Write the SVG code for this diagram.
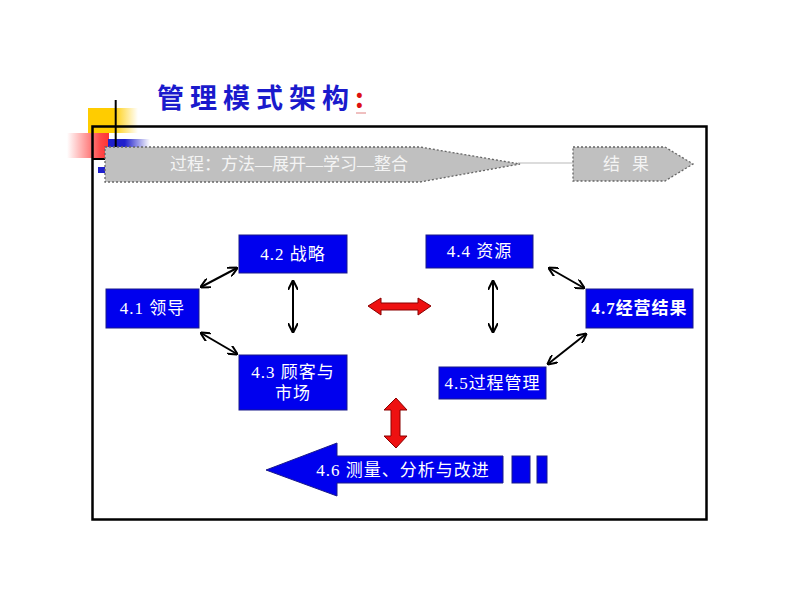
<svg xmlns="http://www.w3.org/2000/svg" width="800" height="600" viewBox="0 0 800 600">
<defs>
<linearGradient id="gY" x1="0" y1="0" x2="1" y2="0"><stop offset="0" stop-color="#ffcc00"/><stop offset="0.5" stop-color="#ffcc00"/><stop offset="1" stop-color="#ffcc00" stop-opacity="0"/></linearGradient>
<linearGradient id="gR" x1="0" y1="0" x2="1" y2="0"><stop offset="0" stop-color="#ff3333" stop-opacity="0"/><stop offset="0.8" stop-color="#ff3333" stop-opacity="0.9"/><stop offset="1" stop-color="#ff3333"/></linearGradient>
<linearGradient id="gB" x1="0" y1="0" x2="1" y2="0"><stop offset="0" stop-color="#2020cc"/><stop offset="0.4" stop-color="#2020cc"/><stop offset="1" stop-color="#2020cc" stop-opacity="0"/></linearGradient>
<marker id="ah" viewBox="0 0 10 10" refX="9" refY="5" markerWidth="5" markerHeight="5" orient="auto-start-reverse"><path d="M0,0 L10,5 L0,10" fill="none" stroke="#000" stroke-width="2"/></marker>
</defs>
<style>
.node{fill:#0000ee;stroke:#1a1a8a;stroke-width:1}
.nt{fill:#fff;font-family:"Liberation Serif","Noto Sans CJK SC",serif;font-size:17px;letter-spacing:1px;text-anchor:middle;dominant-baseline:central}
.grey{fill:#c0c0c0;stroke:#666;stroke-width:1.3;stroke-dasharray:2 2}
.gt{fill:#f4f4f4;font-family:"Liberation Serif","Noto Sans CJK SC",serif;font-size:17px;dominant-baseline:central}
.conn{stroke:#000;stroke-width:2;fill:none;marker-start:url(#ah);marker-end:url(#ah)}
.red{fill:#ee1111;stroke:#8a0000;stroke-width:1}
</style>
<rect width="800" height="600" fill="#fff"/>
<g id="title">
<text x="157" y="96" font-family="'Noto Sans CJK SC',sans-serif" font-weight="bold" font-size="27" letter-spacing="6" fill="#1a1acc" dominant-baseline="central">管理模式架构<tspan fill="#dd1111">:</tspan></text>
<line x1="356" y1="113" x2="366" y2="113" stroke="#e08080" stroke-width="1"/>
</g>
<g id="decoration">
<rect x="88" y="108" width="50" height="25" fill="url(#gY)"/>
<rect x="67" y="133" width="42" height="25" fill="url(#gR)"/>
<rect x="108" y="139" width="42" height="8" fill="url(#gB)"/>
<rect x="98" y="167" width="7" height="6" fill="#2020cc"/>
<line x1="115.7" y1="100" x2="115.7" y2="148" stroke="#000" stroke-width="2"/>
<line x1="92" y1="159" x2="109" y2="159" stroke="#000" stroke-width="2"/>
</g>
<rect id="frame" x="92.5" y="126.5" width="614" height="393" fill="none" stroke="#000" stroke-width="2.5"/>
<g id="process">
<line x1="518" y1="163" x2="573" y2="163" stroke="#dcdcdc" stroke-width="2"/>
<path class="grey" d="M105,147 L420,147 L520,164 L420,182 L105,182 Z"/>
<text class="gt" x="170" y="164">过程：方法—展开—学习—整合</text>
</g>
<g id="result">
<path class="grey" d="M573,147 L665,147 L693,164 L665,181 L573,181 Z"/>
<text class="gt" x="628" y="164" text-anchor="middle" letter-spacing="4">结 果</text>
</g>
<g id="n41"><rect class="node" x="106" y="289" width="93" height="39"/><text class="nt" x="152.5" y="308.5">4.1 领导</text></g>
<g id="n42"><rect class="node" x="239" y="235" width="108" height="38"/><text class="nt" x="293" y="254">4.2 战略</text></g>
<g id="n43"><rect class="node" x="239" y="355" width="108" height="55"/><text class="nt" x="293" y="372">4.3 顾客与</text><text class="nt" x="293" y="393">市场</text></g>
<g id="n44"><rect class="node" x="426" y="235" width="107" height="33"/><text class="nt" x="479.5" y="251.5">4.4 资源</text></g>
<g id="n45"><rect class="node" x="439" y="367" width="107" height="32"/><text class="nt" x="492.5" y="383">4.5过程管理</text></g>
<g id="n47"><rect class="node" x="586" y="289" width="107" height="39"/><text class="nt" x="639.5" y="308.5" font-weight="bold" letter-spacing="0">4.7经营结果</text></g>
<g id="n46">
<path class="node" d="M266,470 L337,443 L337,456 L503,456 L503,483 L337,483 L337,496 Z"/>
<text class="nt" x="403" y="470">4.6 测量、分析与改进</text>
<rect class="node" x="512" y="456" width="18" height="27"/>
<rect class="node" x="537" y="456" width="10" height="27"/>
</g>
<g id="connectors">
<line class="conn" x1="201" y1="287" x2="237" y2="268"/>
<line class="conn" x1="201" y1="333" x2="237" y2="354"/>
<line class="conn" x1="293" y1="281" x2="293" y2="332"/>
<line class="conn" x1="493" y1="281" x2="493" y2="332"/>
<line class="conn" x1="549" y1="268" x2="584" y2="288"/>
<line class="conn" x1="548" y1="364" x2="586" y2="334"/>
<path class="red" d="M368,306 L381,298 L381,303 L418,303 L418,298 L431,306 L418,315 L418,310 L381,310 L381,315 Z"/>
<path class="red" d="M396,398 L407,410 L400,410 L400,436 L407,436 L396,448 L384,436 L391,436 L391,410 L384,410 Z"/>
</g>
</svg>
